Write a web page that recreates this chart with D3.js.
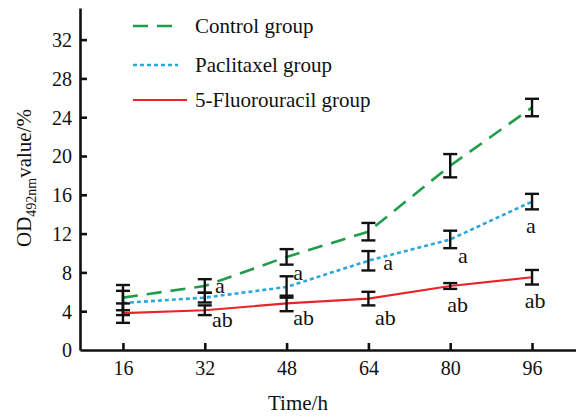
<!DOCTYPE html>
<html>
<head>
<meta charset="utf-8">
<script src="https://cdn.jsdelivr.net/npm/d3@7"></script>
<style>
  body { margin: 0; background: #fff; }
</style>
</head>
<body>
<svg id="chart" width="576" height="417"></svg>
<script>
// hours on x, OD value on y
var hours = [16, 32, 48, 64, 80, 96],
  yTicks = [0, 4, 8, 12, 16, 20, 24, 28, 32],
  controlMean = [5.4, 6.6, 9.6, 12.2, 19.0, 25.0],
  controlErr = [1.3, 0.7, 0.8, 0.9, 1.2, 0.9],
  paclitaxelMean = [4.85, 5.4, 6.5, 9.2, 11.4, 15.3],
  paclitaxelErr = [1.25, 0.5, 1.1, 1.0, 0.9, 0.8],
  fluoroMean = [3.8, 4.1, 4.8, 5.3, 6.6, 7.5],
  fluoroErr = [1.0, 0.5, 0.8, 0.7, 0.3, 0.75],
  seriesNames = ['Control group', 'Paclitaxel group', '5-Fluorouracil group'],
  // significance letters: [hour position, value position]
  aLabelHours = [34.0, 49.3, 66.9, 81.5, 94.8],
  aLabelValues = [5.9, 7.2, 8.25, 8.97, 12.06],
  abLabelHours = [33.4, 49.3, 65.3, 79.4, 94.6],
  abLabelValues = [2.37, 2.58, 2.58, 3.9, 4.33];

var svg = d3.select('#chart');

var SERIF = '"Liberation Serif", "DejaVu Serif", "Noto Serif", FreeSerif, Tinos, "Times New Roman", Times, serif',
  COLORS = ['#1f9d4b', '#2aa7df', '#e8252b'],
  DASHES = ['15,9', '4,3', null],
  WIDTHS = [2.6, 2.6, 2.2],
  CAP = 7,
  FONT = 20;

var x = d3.scaleLinear().domain([7.6, 104.6]).range([80, 576]);
var y = d3.scaleLinear().domain([0, 35.26]).range([350, 8]);

var series = [
  { name: seriesNames[0], mean: controlMean, err: controlErr },
  { name: seriesNames[1], mean: paclitaxelMean, err: paclitaxelErr },
  { name: seriesNames[2], mean: fluoroMean, err: fluoroErr }
];

// axes
var xAxis = svg.append('g')
  .attr('transform', 'translate(0,' + y(0) + ')')
  .call(d3.axisBottom(x).tickValues(hours).tickSizeInner(-7).tickSizeOuter(0));

var yAxis = svg.append('g')
  .attr('transform', 'translate(' + x(7.6) + ',0)')
  .call(d3.axisLeft(y).tickValues(yTicks).tickSizeInner(-7).tickSizeOuter(0));

[xAxis, yAxis].forEach(function(ax) {
  ax.attr('font-family', SERIF).attr('font-size', FONT);
  ax.selectAll('path, line').attr('stroke', '#111').attr('stroke-width', 2.6);
  ax.selectAll('text').attr('fill', '#111');
});
xAxis.selectAll('text').attr('y', 25).attr('dy', 0);
yAxis.selectAll('text').attr('x', -8).attr('dy', '0.34em');
yAxis.selectAll('.tick').filter(function(d) { return d === 0; }).select('line').remove();

// axis titles
svg.append('text')
  .attr('x', 298)
  .attr('y', 410)
  .attr('text-anchor', 'middle')
  .attr('font-family', SERIF)
  .attr('font-size', 21)
  .attr('fill', '#111')
  .text('Time/h');

var yTitle = svg.append('text')
  .attr('transform', 'translate(31,178) rotate(-90)')
  .attr('text-anchor', 'middle')
  .attr('font-family', SERIF)
  .attr('font-size', 21)
  .attr('fill', '#111');
yTitle.append('tspan').text('OD');
yTitle.append('tspan').attr('dy', 5).attr('font-size', 14).text('492nm');
yTitle.append('tspan').attr('dy', -5).text('value/%');

// lines
var line = d3.line()
  .x(function(d, i) { return x(hours[i]); })
  .y(function(d) { return y(d); })
  .curve(d3.curveLinear);

series.forEach(function(s, k) {
  svg.append('path')
    .datum(s.mean)
    .attr('d', line)
    .attr('fill', 'none')
    .attr('stroke', COLORS[k])
    .attr('stroke-width', WIDTHS[k])
    .attr('stroke-dasharray', DASHES[k]);
});

// error bars
series.forEach(function(s) {
  var g = svg.append('g')
    .attr('stroke', '#111')
    .attr('stroke-width', 2.4);
  s.mean.forEach(function(m, i) {
    var cx = x(hours[i]),
      top = y(m + s.err[i]),
      bot = y(m - s.err[i]);
    g.append('line').attr('x1', cx).attr('x2', cx).attr('y1', top).attr('y2', bot);
    g.append('line').attr('x1', cx - CAP).attr('x2', cx + CAP).attr('y1', top).attr('y2', top);
    g.append('line').attr('x1', cx - CAP).attr('x2', cx + CAP).attr('y1', bot).attr('y2', bot);
  });
});

// significance letters
var letters = svg.append('g')
  .attr('font-family', SERIF)
  .attr('font-size', 22)
  .attr('fill', '#111');
aLabelHours.forEach(function(h, i) {
  letters.append('text')
    .attr('x', x(h))
    .attr('y', y(aLabelValues[i]))
    .text('a');
});
abLabelHours.forEach(function(h, i) {
  letters.append('text')
    .attr('x', x(h))
    .attr('y', y(abLabelValues[i]))
    .text('ab');
});

// legend
var legendY = [26, 65, 100],
  legendEnd = [178, 178, 187];
series.forEach(function(s, k) {
  svg.append('line')
    .attr('x1', 133)
    .attr('x2', legendEnd[k])
    .attr('y1', legendY[k])
    .attr('y2', legendY[k])
    .attr('stroke', COLORS[k])
    .attr('stroke-width', WIDTHS[k])
    .attr('stroke-dasharray', DASHES[k]);
  svg.append('text')
    .attr('x', 195)
    .attr('y', legendY[k] + 7)
    .attr('font-family', SERIF)
    .attr('font-size', 21)
    .attr('fill', '#111')
    .text(s.name);
});
</script>
</body>
</html>
